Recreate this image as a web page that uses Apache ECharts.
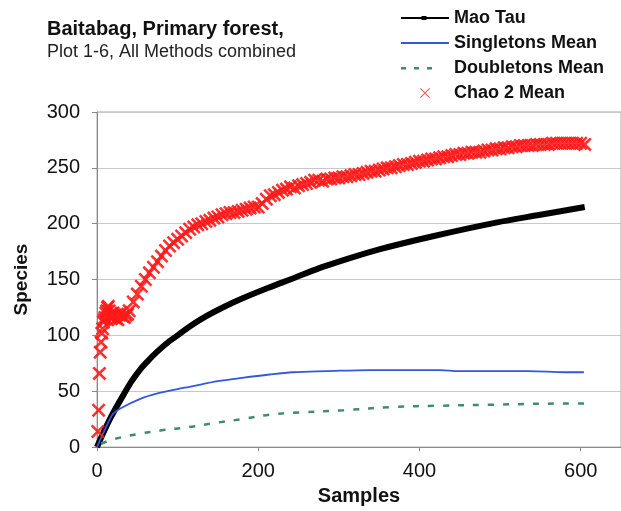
<!DOCTYPE html>
<html>
<head>
<meta charset="utf-8">
<script src="https://cdn.jsdelivr.net/npm/echarts@6/dist/echarts.min.js"></script>
<style>html,body{margin:0;padding:0;background:#fff}#c{width:621px;height:511px}</style>
</head>
<body>
<div id="c"></div>
<script>
var titleText = 'Baitabag, Primary forest,';
var subtitleText = 'Plot 1-6, All Methods combined';
var seriesNames = ['Mao Tau', 'Singletons Mean', 'Doubletons Mean', 'Chao 2 Mean'];
var xTickValues = [0, 200, 400, 600];

var maoSamples = [0,3,8,16,25,33,43,53,63,74,90,100,115,135,156,180,214,243,275,300,350,418,495,550,605];
var maoValues  = [0,5,13,25,37,47,59,69,77,85,95,100,108,117,125,133,143,151,160,166,177,189,201,208,215];

var singSamples = [0,3,8,16,20,30,53,75,100,115,150,180,214,243,285,339,425,449,536,581,604];
var singValues  = [0,5,13,25,30,35,43,48,52,54,59,62,65,67,68,69,69,68,68,67,67];

var doubSamples = [5,20,53,80,115,150,180,214,250,306,368,422,492,580,605];
var doubValues  = [3,7,12,15,18,22,25,29,31,33,36,37,38,39,39];

var chaoSamples = [1,2,3,4,5,6,7,8,9,10,11,12,13,14,15,16,17,18,19,20,22,24,26,28,30,32,34,36,38,40,
  45,50,55,60,65,70,75,80,85,90,95,100,105,110,115,120,125,130,135,140,145,150,155,160,165,170,175,180,185,190,195,200,
  205,210,215,220,225,230,235,240,245,250,255,260,265,270,275,280,285,290,295,300,305,310,315,320,325,330,335,340,345,350,
  355,360,365,370,375,380,385,390,395,400,405,410,415,420,425,430,435,440,445,450,455,460,465,470,475,480,485,490,495,500,
  505,510,515,520,525,530,535,540,545,550,555,560,565,570,575,580,585,590,595,600,605];
var chaoValues = [14,33,66,85,94,102,106,112,114,116,120,122,125,126,122,118,116,115,117,120,118,115,114,118,120,117,116,118,119,122,
  130,137,144,150,156,161,166,171,176,180,183,186,189,192,195,197,199,200,202,203,205,206,208,209,210,210,211,212,213,214,215,215,
  218,222,225,226,228,230,231,233,232,234,235,236,237,239,239,238,240,240,241,241,242,242,243,244,244,245,246,247,247,248,
  249,250,250,251,252,253,253,254,255,256,256,257,258,258,259,260,260,261,262,262,263,263,264,264,264,265,266,266,267,267,
  268,268,269,269,270,270,270,270,271,271,271,271,272,272,272,272,272,272,272,272,271];

function pairs(xs, ys) { return xs.map(function (x, i) { return [x, ys[i]]; }); }

var colors = { mao: '#000000', sing: '#3558d8', doub: '#3d8c6c', chao: '#ff1a1a' };
var xPath = 'path://M0,1.3L1.3,0L5,3.7L8.7,0L10,1.3L6.3,5L10,8.7L8.7,10L5,6.3L1.3,10L0,8.7L3.7,5Z';
var box = 'M0,0Z M48,14Z ';
var iconMao = 'path://' + box + 'M0,6H48V8H0Z M20.5,5H25.5V9H20.5Z';
var iconSing = 'path://' + box + 'M0,6H48V8H0Z';
var iconDoub = 'path://' + box + 'M0,6H5V8.5H0Z M13,6H18V8.5H13Z M26,6H31V8.5H26Z';
var iconChao = 'path://' + box + 'M19,2.8L19.8,2L29,11.2L28.2,12Z M28.2,2L29,2.8L19.8,12L19,11.2Z';

var chart = echarts.init(document.getElementById('c'), null, { renderer: 'canvas' });
var font = 'Liberation Sans, Arial, sans-serif';
chart.setOption({
  animation: false,
  backgroundColor: '#ffffff',
  textStyle: { fontFamily: font },
  title: {
    text: titleText, subtext: subtitleText,
    left: 47, top: 19, padding: 0, itemGap: 4,
    textStyle: { fontFamily: font, fontSize: 20, fontWeight: 'bold', color: '#111' },
    subtextStyle: { fontFamily: font, fontSize: 18, color: '#222' }
  },
  legend: {
    orient: 'vertical', left: 401, top: 9, padding: 0,
    itemWidth: 48, itemHeight: 14, itemGap: 7,
    itemStyle: { borderWidth: 0 },
    textStyle: { fontFamily: font, fontSize: 18, fontWeight: 'bold', color: '#111' },
    data: [
      { name: seriesNames[0], icon: iconMao, itemStyle: { color: colors.mao, borderWidth: 0 } },
      { name: seriesNames[1], icon: iconSing, itemStyle: { color: colors.sing, borderWidth: 0 } },
      { name: seriesNames[2], icon: iconDoub, itemStyle: { color: colors.doub, borderWidth: 0 } },
      { name: seriesNames[3], icon: iconChao, itemStyle: { color: '#f04848', borderWidth: 0 } }
    ]
  },
  grid: { left: 97, right: -1, top: 112, bottom: 53, show: true, borderColor: '#a8a8a8', borderWidth: 1 },
  xAxis: {
    type: 'value', min: 0, max: 650, interval: 200,
    name: 'Samples', nameLocation: 'middle', nameGap: 37,
    nameTextStyle: { fontFamily: font, fontSize: 20, fontWeight: 'bold', color: '#111' },
    axisLine: { show: true, lineStyle: { color: '#8a8a8a', width: 1 } },
    axisTick: { show: true, length: 4, lineStyle: { color: '#8a8a8a' } },
    axisLabel: { margin: 14, fontSize: 20, color: '#111', fontFamily: font, showMaxLabel: false,
      formatter: function (v) { return xTickValues.indexOf(v) >= 0 ? String(v) : ''; } },
    splitLine: { show: false }
  },
  yAxis: {
    type: 'value', min: 0, max: 300, interval: 50,
    name: 'Species', nameLocation: 'middle', nameGap: 66, nameRotate: 90,
    nameTextStyle: { fontFamily: font, fontSize: 19, fontWeight: 'bold', color: '#111' },
    axisLine: { show: true, lineStyle: { color: '#8a8a8a', width: 1 } },
    axisTick: { show: true, length: 5, lineStyle: { color: '#8a8a8a' } },
    axisLabel: { margin: 17, fontSize: 20, color: '#111', fontFamily: font },
    splitLine: { show: true, lineStyle: { color: '#c8c8c8', width: 1 } }
  },
  series: [
    { name: seriesNames[0], type: 'line', data: pairs(maoSamples, maoValues), smooth: 0.35,
      showSymbol: false, color: colors.mao, lineStyle: { color: colors.mao, width: 6 }, z: 2 },
    { name: seriesNames[1], type: 'line', data: pairs(singSamples, singValues), smooth: 0.35,
      showSymbol: false, color: colors.sing, lineStyle: { color: colors.sing, width: 1.8 }, z: 3 },
    { name: seriesNames[2], type: 'line', data: pairs(doubSamples, doubValues), smooth: 0.35,
      showSymbol: false, color: colors.doub, lineStyle: { color: colors.doub, width: 2.5, type: [6, 9] }, z: 3 },
    { name: seriesNames[3], type: 'scatter', data: pairs(chaoSamples, chaoValues), symbol: xPath, symbolSize: 14,
      color: colors.chao, itemStyle: { color: colors.chao, opacity: 0.9 }, z: 4 }
  ]
});
</script>
</body>
</html>
